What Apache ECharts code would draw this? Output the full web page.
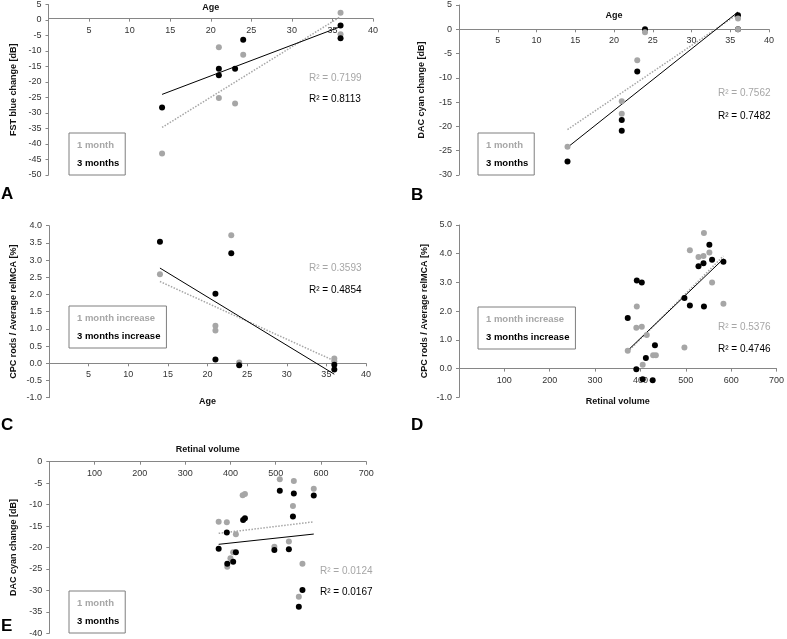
<!DOCTYPE html>
<html><head><meta charset="utf-8">
<script src="https://cdn.jsdelivr.net/npm/echarts@6/dist/echarts.min.js"></script>
<style>html,body{margin:0;padding:0;background:#fff}#c{width:787px;height:639px}</style>
</head><body><div id="c"></div>
<script>
// ---------- data ----------
// Panel A: Age vs FST blue change [dB]
const ageA = [14, 21, 21, 23, 24, 36, 36];
const fstBlue1m = [-43.1, -8.8, -25.2, -26.9, -11.2, 2.3, -4.6];
const fstBlue3m = [-28.2, -15.7, -17.8, -15.7, -6.4, -1.8, -5.9];
// Panel B: Age vs DAC cyan change [dB]
const ageB = [14, 21, 21, 23, 24, 36, 36];
const dacCyan1m = [-24.2, -14.8, -17.4, -6.4, -0.6, 2.2, 0.0];
const dacCyan3m = [-27.2, -18.7, -20.9, -8.7, 0.0, 2.9, 0.0];
// Panel C: Age vs CPC rods / Average relMCA [%]
const ageC = [14, 21, 21, 23, 24, 36, 36];
const cpcAge1m = [2.59, 1.09, 0.95, 3.72, 0.02, 0.14, 0.06];
const cpcAge3m = [3.53, 2.02, 0.11, 3.20, -0.06, -0.04, -0.18];
// Panel D: Retinal volume vs CPC rods / Average relMCA [%]
const volD1m = [372, 392, 391, 403, 405, 414, 428, 434, 497, 509, 528, 539, 540, 552, 558, 583];
const cpcVol1m = [0.62, 2.16, 1.42, 1.46, 0.13, 1.17, 0.46, 0.46, 0.73, 4.12, 3.89, 3.92, 4.72, 4.04, 3.00, 2.26];
const volD3m = [372, 392, 403, 391, 405, 412, 427, 432, 497, 509, 528, 539, 540, 552, 558, 583];
const cpcVol3m = [1.76, 3.07, 3.00, -0.02, -0.37, 0.37, -0.41, 0.81, 2.46, 2.20, 3.56, 3.67, 2.16, 4.31, 3.79, 3.72];
// Panel E: Retinal volume vs DAC cyan change [dB]
const volE1m = [374, 392, 393, 400, 406, 412, 427, 432, 497, 509, 529, 540, 538, 551, 559, 584];
const dacVol1m = [-14.0, -14.1, -24.5, -22.5, -21.1, -16.9, -7.8, -7.5, -19.8, -4.1, -18.6, -4.5, -10.3, -31.5, -23.8, -6.3];
const volE3m = [374, 392, 393, 406, 412, 428, 432, 497, 509, 529, 540, 538, 551, 559, 584];
const dacVol3m = [-20.3, -16.5, -23.8, -23.3, -21.1, -13.6, -13.2, -20.6, -6.8, -20.4, -7.4, -12.8, -33.8, -29.9, -7.9];
// R² labels
const r2_1m = ['R² = 0.7199', 'R² = 0.7562', 'R² = 0.3593', 'R² = 0.5376', 'R² = 0.0124'];
const r2_3m = ['R² = 0.8113', 'R² = 0.7482', 'R² = 0.4854', 'R² = 0.4746', 'R² = 0.0167'];
const panelLetters = ['A', 'B', 'C', 'D', 'E'];
const yTitles = ['FST blue change [dB]', 'DAC cyan change [dB]', 'CPC rods / Average relMCA [%]', 'CPC rods / Average relMCA [%]', 'DAC cyan change [dB]'];
const xTitles = ['Age', 'Age', 'Age', 'Retinal volume', 'Retinal volume'];
const legendShort = ['1 month', '3 months'];
const legendIncrease = ['1 month increase', '3 months increase'];

// ---------- helpers ----------
function pairs(xs, ys) { return xs.map((x, i) => [x, ys[i]]); }
function fit(xs, ys) {
  const n = xs.length;
  const mx = xs.reduce((a, b) => a + b, 0) / n;
  const my = ys.reduce((a, b) => a + b, 0) / n;
  let sxy = 0, sxx = 0;
  for (let i = 0; i < n; i++) { sxy += (xs[i] - mx) * (ys[i] - my); sxx += (xs[i] - mx) * (xs[i] - mx); }
  const b = sxy / sxx, a = my - b * mx;
  const x0 = Math.min(...xs), x1 = Math.max(...xs);
  return [[x0, a + b * x0], [x1, a + b * x1]];
}

const GRAY = '#a6a6a6';
const FONT = 'Liberation Sans, Arial, sans-serif';
const AXISC = '#868686';

const panels = [
  {x1: ageA, y1: fstBlue1m, x3: ageA, y3: fstBlue3m, names: legendShort, grayTop: false},
  {x1: ageB, y1: dacCyan1m, x3: ageB, y3: dacCyan3m, names: legendShort, grayTop: true},
  {x1: ageC, y1: cpcAge1m, x3: ageC, y3: cpcAge3m, names: legendIncrease, grayTop: false},
  {x1: volD1m, y1: cpcVol1m, x3: volD3m, y3: cpcVol3m, names: legendIncrease, grayTop: false},
  {x1: volE1m, y1: dacVol1m, x3: volE3m, y3: dacVol3m, names: legendShort, grayTop: false}
];

// ---------- layout ----------
const grids = [
  {left: 48.5, top: 3, width: 324.5, height: 172},
  {left: 459, top: 5, width: 310, height: 170},
  {left: 49, top: 225.7, width: 317, height: 172},
  {left: 459, top: 225, width: 321.7, height: 172.3},
  {left: 49.3, top: 461.7, width: 317, height: 171.6}
];
const xCfg = [
  {max: 40, interval: 5, gap: -16},
  {max: 40, interval: 5, gap: -18},
  {max: 40, interval: 5, gap: 34},
  {max: 700, interval: 100, gap: 28},
  {max: 700, interval: 100, gap: -17}
];
const yCfg = [
  {min: -50, max: 5, interval: 5, dec: 0, gap: 30},
  {min: -30, max: 5, interval: 5, dec: 0, gap: 33},
  {min: -1, max: 4, interval: 0.5, dec: 1, gap: 31},
  {min: -1, max: 5, interval: 1, dec: 1, gap: 30},
  {min: -40, max: 0, interval: 5, dec: 0, gap: 31}
];
const letterPos = [[1, 186], [411, 187], [1, 417], [411, 417], [1, 618]];
const r2Pos = [[309, 79, 100], [718, 94, 117], [309, 269, 291], [718, 328, 350], [320, 572, 593]];
const legendPos = [[69, 133], [478, 133], [69, 306], [478, 307], [69, 591]];

const tickCommon = {show: true, length: 3, lineStyle: {color: AXISC}};
const nameStyle = {fontSize: 9, fontWeight: 'bold', color: '#111', fontFamily: FONT};

// x axis crosses the y axis at value 0: shift it up from the grid bottom by the scale position of 0
const xAxis = xCfg.map((c, i) => {
  const y = yCfg[i], g = grids[i];
  const zeroOffset = -g.height * (0 - y.min) / (y.max - y.min);
  return {
    type: 'value', gridIndex: i, min: 0, max: c.max, interval: c.interval,
    position: 'bottom', offset: zeroOffset,
    axisLine: {onZero: false, lineStyle: {color: AXISC, width: 1}},
    axisTick: tickCommon, splitLine: {show: false},
    name: xTitles[i], nameLocation: 'middle', nameGap: c.gap, nameMoveOverlap: false,
    nameTextStyle: nameStyle,
    axisLabel: {fontSize: 9, color: '#333', fontFamily: FONT, margin: 7, showMinLabel: false}
  };
});
const yAxis = yCfg.map((c, i) => ({
  type: 'value', gridIndex: i, min: c.min, max: c.max, interval: c.interval,
  axisLine: {show: true, onZero: false, lineStyle: {color: AXISC, width: 1}},
  axisTick: tickCommon, splitLine: {show: false},
  name: yTitles[i], nameLocation: 'middle', nameGap: c.gap, nameMoveOverlap: false,
  nameTextStyle: nameStyle,
  axisLabel: {fontSize: 9, color: '#333', fontFamily: FONT, margin: 7,
    formatter: v => v.toFixed(c.dec)}
}));

const series = [];
panels.forEach((p, i) => {
  series.push({type: 'line', name: 'trend 1m ' + i, xAxisIndex: i, yAxisIndex: i, data: fit(p.x1, p.y1),
    symbol: 'none', silent: true, z: 2, lineStyle: {color: GRAY, width: 1.5, type: 'dotted'}});
  series.push({type: 'line', name: 'trend 3m ' + i, xAxisIndex: i, yAxisIndex: i, data: fit(p.x3, p.y3),
    symbol: 'none', silent: true, z: 2, lineStyle: {color: '#000', width: 1}});
  series.push({type: 'scatter', name: p.names[0], xAxisIndex: i, yAxisIndex: i, data: pairs(p.x1, p.y1),
    symbolSize: 6, z: p.grayTop ? 5 : 3, itemStyle: {color: GRAY, opacity: 1}});
  series.push({type: 'scatter', name: p.names[1], xAxisIndex: i, yAxisIndex: i, data: pairs(p.x3, p.y3),
    symbolSize: 6, z: 4, itemStyle: {color: '#000', opacity: 1}});
});

const legend = panels.map((p, i) => ({
  left: legendPos[i][0], top: legendPos[i][1], orient: 'vertical',
  selectedMode: false, backgroundColor: '#fff', borderColor: '#7f7f7f', borderWidth: 1,
  padding: [7, 6, 6, 3], itemGap: 7, itemWidth: 0, itemHeight: 0,
  itemStyle: {opacity: 0},
  textStyle: {fontSize: 9.5, fontWeight: 'bold', fontFamily: FONT, lineHeight: 11},
  data: [
    {name: p.names[0], textStyle: {color: GRAY}},
    {name: p.names[1], textStyle: {color: '#000'}}
  ]
}));

const title = panelLetters.map((t, i) => ({
  text: t, left: letterPos[i][0], top: letterPos[i][1], padding: 0,
  textStyle: {fontSize: 17, fontWeight: 'bold', color: '#000', fontFamily: FONT}
}));

const graphic = [];
r2Pos.forEach((pos, i) => {
  graphic.push({type: 'text', left: pos[0], top: pos[1] - 6,
    style: {text: r2_1m[i], fill: GRAY, fontSize: 10, fontFamily: FONT}});
  graphic.push({type: 'text', left: pos[0], top: pos[2] - 6,
    style: {text: r2_3m[i], fill: '#000', fontSize: 10, fontFamily: FONT}});
});

const chart = echarts.init(document.getElementById('c'), null, {renderer: 'canvas'});
chart.setOption({
  animation: false,
  backgroundColor: '#fff',
  title, legend, grid: grids, xAxis, yAxis, series, graphic
});
</script></body></html>
